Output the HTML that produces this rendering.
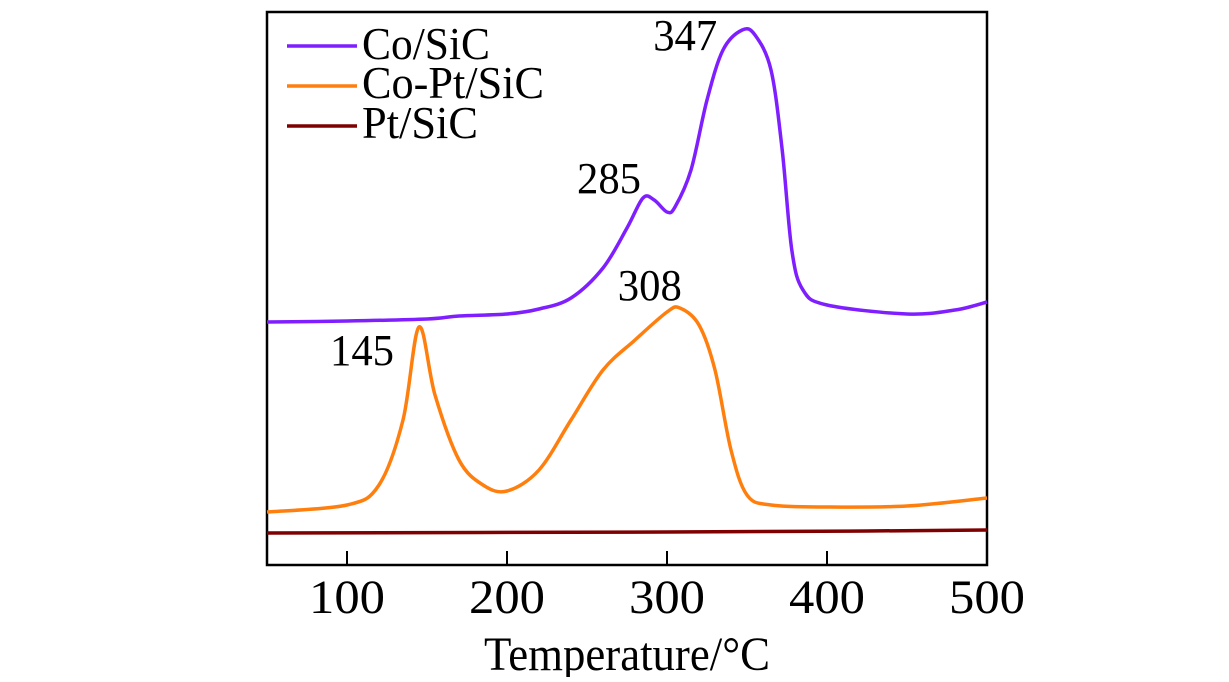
<!DOCTYPE html>
<html><head><meta charset="utf-8"><style>
body{margin:0;background:#fff;}
svg text{font-family:"Liberation Serif",serif;fill:#000;}
</style></head><body>
<svg id="chart" width="1229" height="677" xmlns="http://www.w3.org/2000/svg">
<rect x="267" y="12" width="720" height="553" fill="none" stroke="#000" stroke-width="2.5"/>
<g id="ticks"></g>
<g id="series"></g>
<g>
<line x1="287" y1="46" x2="357" y2="46" stroke="#7f1fff" stroke-width="3.5"/>
<text x="362" y="59" font-size="46" textLength="128" lengthAdjust="spacingAndGlyphs">Co/SiC</text>
<line x1="287" y1="86" x2="357" y2="86" stroke="#ff7f0e" stroke-width="3.5"/>
<text x="362" y="98" font-size="46" textLength="182" lengthAdjust="spacingAndGlyphs">Co-Pt/SiC</text>
<line x1="287" y1="126" x2="357" y2="126" stroke="#7f0000" stroke-width="3.5"/>
<text x="362" y="138" font-size="46" textLength="116" lengthAdjust="spacingAndGlyphs">Pt/SiC</text>
</g>
<g id="annots"></g>
<text x="627" y="670" font-size="48" text-anchor="middle" textLength="286" lengthAdjust="spacingAndGlyphs">Temperature/°C</text>
</svg>
<script>
const xTicks=[100,200,300,400,500];
const coT=[50,100,150,170,200,220,240,260,275,285,292,300,305,315,325,335,347,355,365,372,378,385,400,450,480,500];
const coV=[243,244,246,249,251,256,267,297,337,367,365,353,358,395,465,515,535,530,495,415,315,275,260,251,255,263];
const coptT=[50,100,120,135,145,155,170,185,200,220,240,260,280,300,308,320,330,340,350,365,400,450,500];
const coptV=[53,60,80,145,238,170,105,80,74,95,145,195,225,253,257,240,195,115,70,60,58,59,67];
const ptT=[50,300,425,500];
const ptV=[32,33,34,35];
const peakLabels=["347","285","308","145"];
const peakT=[347,285,308,145];
const peakV=[535,367,257,238];
const X=t=>267+(t-50)*1.6;
const Y=v=>565-v;
const NS="http://www.w3.org/2000/svg";
const tg=document.getElementById('ticks');
xTicks.forEach(t=>{
 if(t<500){const l=document.createElementNS(NS,'line');
 l.setAttribute('x1',X(t));l.setAttribute('x2',X(t));l.setAttribute('y1',565);l.setAttribute('y2',551);
 l.setAttribute('stroke','#000');l.setAttribute('stroke-width','2');
 
 
 tg.appendChild(l);}
 const tx=document.createElementNS(NS,'text');
 tx.setAttribute('x',X(t));tx.setAttribute('y',613);tx.setAttribute('font-size','48');tx.setAttribute('text-anchor','middle');
 tx.setAttribute('textLength','76');tx.setAttribute('lengthAdjust','spacingAndGlyphs');
 tx.textContent=t;
 
 
 tg.appendChild(tx);
});
function line(ts,vs,color,name){
 const p=document.createElementNS(NS,'path');
 const pts=ts.map((t,i)=>[X(t),Y(vs[i])]);
 let d='M'+pts[0][0]+','+pts[0][1];
 for(let i=0;i<pts.length-1;i++){
  const p0=pts[i-1]||pts[i],p1=pts[i],p2=pts[i+1],p3=pts[i+2]||p2;
  const c1x=p1[0]+(p2[0]-p0[0])/6,c1y=p1[1]+(p2[1]-p0[1])/6;
  const c2x=p2[0]-(p3[0]-p1[0])/6,c2y=p2[1]-(p3[1]-p1[1])/6;
  d+=` C${c1x},${c1y} ${c2x},${c2y} ${p2[0]},${p2[1]}`;
 }
 p.setAttribute('d',d);p.setAttribute('fill','none');p.setAttribute('stroke',color);p.setAttribute('stroke-width','3.5');
 
 
 document.getElementById('series').appendChild(p);
}
line(coT,coV,'#7f1fff','series-co-sic');
line(coptT,coptV,'#ff7f0e','series-co-pt-sic');
line(ptT,ptV,'#7f0000','series-pt-sic');
const ag=document.getElementById('annots');
const offs=[[-57,20],[-34,-5],[-30,-8],[-57,38]];
peakLabels.forEach((s,i)=>{
 const tx=document.createElementNS(NS,'text');
 tx.setAttribute('x',X(peakT[i])+offs[i][0]);tx.setAttribute('y',Y(peakV[i])+offs[i][1]);
 tx.setAttribute('font-size','44');tx.setAttribute('text-anchor','middle');
 tx.setAttribute('textLength','64');tx.setAttribute('lengthAdjust','spacingAndGlyphs');
 tx.textContent=s;
 
 
 ag.appendChild(tx);
});
</script>
</body></html>
